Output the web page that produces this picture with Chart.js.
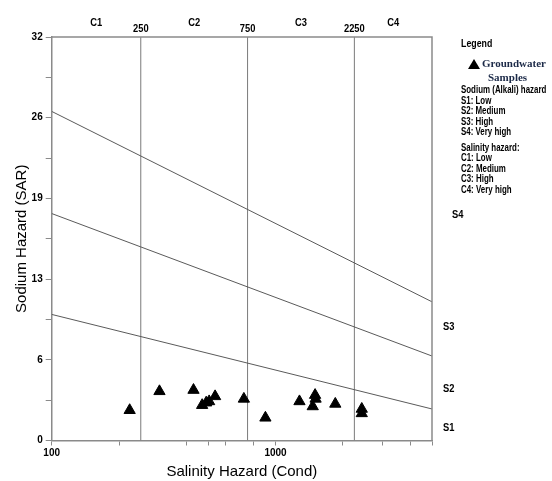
<!DOCTYPE html>
<html>
<head>
<meta charset="utf-8">
<script src="https://cdn.jsdelivr.net/npm/chart.js@4/dist/chart.umd.min.js"></script>
<style>
  html, body { margin: 0; padding: 0; background: #fff; }
  #wrap { width: 552px; height: 481px; position: relative; }
</style>
</head>
<body>
<div id="wrap"><canvas id="chart"></canvas></div>
<script>
// samples
const ecValues = [223, 303, 430, 470, 490, 505, 537, 722, 901, 1279, 1502, 1510, 1466, 1849, 2428, 2428];
const sarValues = [2.4, 3.9, 4.0, 2.8, 3.0, 3.1, 3.5, 3.3, 1.8, 3.1, 3.6, 3.3, 2.7, 2.9, 2.5, 2.15];

// salinity class limits and labels
const salinityLimits = [250, 750, 2250];
const salinityClasses = ['C1', 'C2', 'C3', 'C4'];
const salinityClassAt = [158, 433, 1299, 3354];

// sodium hazard boundaries (SAR at 100 and at 5000)
const boundaryEc = [100, 5000];
const boundaryS1S2 = [10, 2.5];
const boundaryS2S3 = [18, 6.7];
const boundaryS3S4 = [26.1, 11];
const sodiumClasses = ['S1', 'S2', 'S3', 'S4'];
const sodiumClassAt = [1.0, 4.1, 9.0, 17.9];

// axis ticks
const xTickValues = [100, 200, 400, 500, 600, 800, 1000, 2000, 3000, 4000, 5000];
const xTickLabels = [100, 1000];
const yTickValues = [0, 3.2, 6.4, 9.6, 12.8, 16, 19.2, 22.4, 25.6, 28.8, 32];

const legendLines = [
  'Sodium (Alkali) hazard', 'S1: Low', 'S2: Medium', 'S3: High', 'S4: Very high',
  'Salinity hazard:', 'C1: Low', 'C2: Medium', 'C3: High', 'C4: Very high'
];

const sans = "'Liberation Sans', Arial, sans-serif";
const axisGrey = '#8a8a8a';

function boundary(vals) {
  return boundaryEc.map((x, i) => ({ x: x, y: vals[i] }));
}

// squeezed bold text, the original uses a narrow face
function narrowText(ctx, text, x, y, squeeze) {
  ctx.save();
  ctx.translate(x, y);
  ctx.scale(squeeze, 1);
  ctx.fillText(text, 0, 0);
  ctx.restore();
}

const datasets = [];
salinityLimits.forEach(v => {
  datasets.push({
    type: 'line', data: [{ x: v, y: 0 }, { x: v, y: 32 }],
    borderColor: '#7a7a7a', borderWidth: 1, pointRadius: 0, order: 3
  });
});
[boundaryS1S2, boundaryS2S3, boundaryS3S4].forEach(b => {
  datasets.push({
    type: 'line', data: boundary(b),
    borderColor: '#5a5a5a', borderWidth: 1, pointRadius: 0, order: 2
  });
});
datasets.push({
  type: 'scatter',
  data: ecValues.map((x, i) => ({ x: x, y: sarValues[i] })),
  pointStyle: 'triangle', pointRadius: 6.5,
  backgroundColor: '#000', borderColor: '#000', borderWidth: 1, order: 1
});

const extras = {
  id: 'extras',
  afterDraw(chart) {
    const ctx = chart.ctx;
    const a = chart.chartArea;
    const xs = chart.scales.x, ys = chart.scales.y;
    ctx.save();
    // top and right frame
    ctx.strokeStyle = axisGrey;
    ctx.lineWidth = 1.5;
    ctx.beginPath();
    ctx.moveTo(a.left, a.top);
    ctx.lineTo(a.right, a.top);
    ctx.lineTo(a.right, a.bottom);
    ctx.stroke();

    ctx.fillStyle = '#000';
    ctx.font = 'bold 11px ' + sans;
    ctx.textAlign = 'center';
    ctx.textBaseline = 'middle';
    salinityLimits.forEach(v => narrowText(ctx, String(v), xs.getPixelForValue(v), a.top - 8, 0.85));
    salinityClasses.forEach((c, i) => narrowText(ctx, c, xs.getPixelForValue(salinityClassAt[i]), a.top - 14, 0.85));

    ctx.textAlign = 'left';
    sodiumClasses.forEach((s, i) => narrowText(ctx, s, a.right + (s === 'S4' ? 20 : 11), ys.getPixelForValue(sodiumClassAt[i]), 0.85));

    // legend
    const lx = a.right + 29;
    ctx.font = 'bold 11px ' + sans;
    narrowText(ctx, 'Legend', lx, 44, 0.8);
    ctx.beginPath();
    ctx.moveTo(lx + 13, 59);
    ctx.lineTo(lx + 19, 69);
    ctx.lineTo(lx + 7, 69);
    ctx.closePath();
    ctx.fill();
    ctx.fillStyle = '#1c2a48';
    ctx.font = 'bold 11px "Liberation Serif", "Times New Roman", serif';
    ctx.fillText('Groundwater', lx + 21, 64);
    ctx.fillText('Samples', lx + 27, 78);
    ctx.fillStyle = '#000';
    ctx.font = 'bold 11px ' + sans;
    let y = 90;
    legendLines.forEach((t, i) => {
      if (i === 5) y += 5;
      narrowText(ctx, t, lx, y, 0.72);
      y += 10.5;
    });
    ctx.restore();
  }
};

new Chart(document.getElementById('chart'), {
  data: { datasets: datasets },
  options: {
    responsive: true,
    maintainAspectRatio: false,
    animation: false,
    layout: { padding: { top: 37, right: 120, left: 0, bottom: 0 } },
    plugins: { legend: { display: false }, tooltip: { enabled: false } },
    scales: {
      x: {
        type: 'logarithmic', min: 100, max: 5000,
        afterBuildTicks: s => { s.ticks = xTickValues.map(v => ({ value: v })); },
        afterFit: s => { s.height = 40.5; },
        ticks: {
          autoSkip: false, maxRotation: 0, padding: 2, color: '#000',
          font: { family: sans, size: 10, weight: 'bold' },
          callback: v => xTickLabels.includes(v) ? String(v) : ''
        },
        grid: { drawOnChartArea: false, drawTicks: true, tickLength: 5, color: axisGrey, lineWidth: 1 },
        border: { display: true, color: axisGrey, width: 1.5 },
        title: {
          display: true, text: 'Salinity Hazard (Cond)', color: '#000',
          font: { family: sans, size: 15 }, padding: { top: 4, bottom: 0 }
        }
      },
      y: {
        type: 'linear', min: 0, max: 32,
        afterBuildTicks: s => { s.ticks = yTickValues.map(v => ({ value: v })); },
        afterFit: s => { s.width = 51.7; },
        ticks: {
          autoSkip: false, padding: 3, color: '#000',
          font: { family: sans, size: 10, weight: 'bold' },
          callback: (v, i) => i % 2 === 0 ? String(Math.round(v)) : ''
        },
        grid: { drawOnChartArea: false, drawTicks: true, tickLength: 6, color: axisGrey, lineWidth: 1 },
        border: { display: true, color: axisGrey, width: 1.5 },
        title: {
          display: true, text: 'Sodium Hazard (SAR)', color: '#000',
          font: { family: sans, size: 15 }, padding: { top: 13, bottom: 0 }
        }
      }
    }
  },
  plugins: [extras]
});
</script>
</body>
</html>
